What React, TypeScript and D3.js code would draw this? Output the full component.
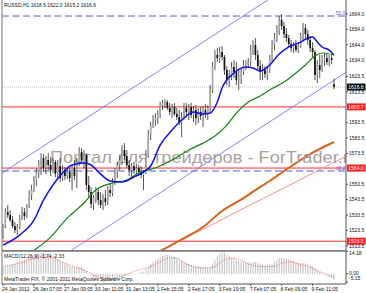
import React from "react";
import * as d3 from "d3";

const title = "RUSSD,H1  1618.5 1622.0 1615.2 1616.6";
const macdTitle = "MACD(12,26,9) -3.74 -2.33";
const footer = "MetaTrader FIX, \u00a9 2001-2011 MetaQuotes Software Corp.";
const watermark = "Портал для трейдеров - ForTrader.ru";

// [open, high, low, close]
const candles: [number, number, number, number][] = [
  [1518.5,1527.6,1517.9,1526.3],[1526.3,1538.0,1525.0,1535.4],[1535.4,1540.0,1531.5,1533.5],[1533.5,1536.7,1528.9,1530.2],
  [1530.2,1532.8,1525.0,1526.3],[1526.3,1528.9,1521.8,1523.7],[1523.7,1527.6,1520.5,1525.7],[1525.7,1533.5,1524.4,1532.2],
  [1532.2,1538.7,1530.2,1535.4],[1535.4,1538.0,1530.2,1532.8],[1532.8,1540.6,1531.5,1539.3],[1539.3,1549.7,1538.0,1546.5],
  [1546.5,1553.0,1543.2,1549.7],[1549.7,1558.8,1548.4,1556.2],[1556.2,1564.0,1552.3,1561.4],[1561.4,1569.2,1557.5,1566.0],
  [1566.0,1573.7,1559.5,1570.5],[1570.5,1573.1,1561.4,1564.0],[1564.0,1571.8,1560.1,1569.2],[1569.2,1573.7,1562.7,1566.0],
  [1566.0,1571.1,1558.8,1562.7],[1562.7,1570.5,1560.8,1567.9],[1567.9,1569.2,1558.2,1560.1],[1560.1,1569.2,1556.2,1565.3],
  [1565.3,1570.5,1554.9,1557.5],[1557.5,1566.0,1555.6,1562.7],[1562.7,1564.7,1556.2,1558.8],[1558.8,1564.0,1556.9,1561.4],
  [1561.4,1564.0,1554.9,1557.5],[1557.5,1566.0,1549.7,1564.0],[1564.0,1569.2,1556.2,1558.8],[1558.8,1570.5,1551.0,1567.9],
  [1567.9,1577.6,1565.3,1574.4],[1574.4,1577.0,1566.6,1569.2],[1569.2,1575.7,1564.0,1572.4],[1572.4,1573.7,1549.7,1553.0],
  [1553.0,1558.8,1545.2,1548.4],[1548.4,1551.7,1538.0,1540.6],[1540.6,1546.5,1536.7,1544.5],[1544.5,1551.7,1541.3,1548.4],
  [1548.4,1551.0,1540.0,1543.2],[1543.2,1548.4,1538.0,1540.0],[1540.0,1547.1,1536.7,1544.5],[1544.5,1549.7,1539.3,1541.9],
  [1541.9,1552.3,1540.0,1549.7],[1549.7,1554.3,1545.2,1547.8],[1547.8,1557.5,1545.8,1554.9],[1554.9,1564.0,1553.0,1561.4],
  [1561.4,1567.9,1557.5,1566.0],[1566.0,1572.4,1562.7,1569.2],[1569.2,1578.9,1566.0,1575.7],[1575.7,1580.2,1569.2,1571.8],
  [1571.8,1575.7,1564.0,1566.0],[1566.0,1569.2,1558.8,1562.7],[1562.7,1567.3,1558.2,1565.3],[1565.3,1567.9,1560.1,1562.7],
  [1562.7,1566.6,1558.2,1564.0],[1564.0,1566.0,1558.8,1561.4],[1561.4,1565.3,1557.5,1559.5],[1559.5,1562.7,1549.7,1561.4],
  [1561.4,1575.7,1560.1,1572.4],[1572.4,1588.7,1570.5,1585.4],[1585.4,1593.9,1582.2,1591.9],[1591.9,1598.4,1590.0,1595.2],
  [1595.2,1599.7,1591.3,1596.5],[1596.5,1601.7,1592.6,1598.4],[1598.4,1606.9,1596.5,1604.9],[1604.9,1608.2,1601.7,1606.2],
  [1606.2,1608.8,1603.0,1606.9],[1606.9,1608.2,1601.7,1603.0],[1603.0,1606.2,1598.4,1600.4],[1600.4,1605.6,1596.5,1603.6],
  [1603.6,1606.2,1597.8,1599.1],[1599.1,1603.0,1595.2,1597.1],[1597.1,1601.7,1591.9,1593.9],[1593.9,1600.4,1584.1,1596.5],
  [1596.5,1606.2,1595.2,1603.0],[1603.0,1606.2,1597.1,1600.4],[1600.4,1605.6,1595.2,1603.6],[1603.6,1606.2,1596.5,1598.4],
  [1598.4,1604.3,1593.9,1601.7],[1601.7,1604.9,1591.9,1596.5],[1596.5,1603.0,1593.2,1600.4],[1600.4,1603.6,1595.2,1597.8],
  [1597.8,1604.3,1590.6,1601.7],[1601.7,1605.6,1596.5,1599.7],[1599.7,1604.9,1595.2,1603.0],[1603.0,1617.9,1600.4,1614.7],
  [1614.7,1632.8,1612.7,1630.2],[1630.2,1640.6,1627.6,1637.4],[1637.4,1641.9,1632.8,1635.4],[1635.4,1642.6,1632.2,1639.3],
  [1639.3,1643.2,1634.1,1636.1],[1636.1,1637.4,1624.4,1627.6],[1627.6,1630.2,1617.9,1621.1],[1621.1,1627.6,1616.6,1624.4],
  [1624.4,1632.8,1621.1,1629.6],[1629.6,1634.1,1622.4,1626.3],[1626.3,1632.8,1617.9,1621.1],[1621.1,1627.6,1614.7,1623.7],
  [1623.7,1628.9,1618.5,1626.3],[1626.3,1634.1,1624.4,1630.9],[1630.9,1634.1,1627.6,1631.5],[1631.5,1635.4,1628.9,1632.8],
  [1632.8,1643.9,1630.2,1640.6],[1640.6,1647.1,1637.4,1643.9],[1643.9,1648.4,1634.1,1637.4],[1637.4,1640.6,1627.6,1630.2],
  [1630.2,1634.1,1621.1,1626.3],[1626.3,1631.5,1621.1,1627.6],[1627.6,1630.2,1622.4,1625.0],[1625.0,1629.6,1621.1,1627.6],
  [1627.6,1637.4,1625.7,1635.4],[1635.4,1647.1,1632.8,1643.9],[1643.9,1651.7,1640.6,1648.4],[1648.4,1656.9,1645.8,1653.6],
  [1653.6,1662.7,1650.4,1660.1],[1660.1,1664.0,1653.6,1656.2],[1656.2,1658.8,1648.4,1651.0],[1651.0,1654.9,1645.8,1648.4],
  [1648.4,1650.4,1642.6,1644.5],[1644.5,1647.1,1639.3,1641.9],[1641.9,1645.8,1638.7,1643.9],[1643.9,1647.1,1639.3,1640.6],
  [1640.6,1645.8,1638.7,1643.2],[1643.2,1651.7,1641.9,1649.7],[1649.7,1658.2,1647.1,1654.9],[1654.9,1657.5,1648.4,1651.0],
  [1651.0,1653.6,1643.9,1647.1],[1647.1,1649.7,1639.3,1641.9],[1641.9,1645.8,1636.1,1639.3],[1639.3,1640.6,1621.1,1624.4],
  [1624.4,1634.1,1619.2,1630.9],[1630.9,1637.4,1622.4,1627.6],[1627.6,1637.4,1626.3,1634.1],[1634.1,1638.7,1630.2,1635.4],
  [1635.4,1638.0,1630.9,1632.8],[1632.8,1637.4,1630.2,1635.4],[1635.4,1637.4,1631.5,1634.1],[1618.5,1622.0,1615.2,1616.6],
];

// moving averages sampled as [bar, price]
const maFast: [number, number][] = [
  [0,1514.0],[7,1520.5],[13,1530.2],[17,1543.2],[21,1553.0],[25,1560.8],[29,1566.0],[34,1567.3],[37,1566.0],
  [41,1560.1],[45,1555.6],[50,1554.9],[55,1558.2],[59,1561.4],[62,1565.3],[66,1578.9],[71,1588.7],[76,1596.5],
  [80,1600.4],[84,1599.1],[87,1599.7],[90,1606.9],[92,1616.0],[97,1625.7],[102,1629.6],[105,1628.9],[108,1627.0],
  [112,1630.9],[116,1638.0],[120,1642.6],[125,1645.8],[128,1648.4],[130,1649.1],[132,1645.8],[134,1642.6],
  [137,1640.6],[139,1637.4],
];
const maSlow: [number, number][] = [
  [12,1509.5],[20,1519.2],[27,1531.5],[34,1541.3],[39,1549.7],[46,1554.3],[52,1556.2],[57,1560.8],[65,1564.7],
  [71,1569.2],[78,1575.7],[84,1580.2],[89,1584.8],[94,1591.9],[98,1599.7],[103,1606.9],[108,1610.8],[112,1614.7],
  [118,1619.8],[123,1625.7],[127,1630.9],[131,1636.7],[134,1638.7],[139,1637.4],
];
const maLong: [number, number][] = [
  [64,1508.5],[66,1510.1],[76,1518.5],[84,1525.7],[92,1536.1],[101,1544.5],[106,1549.7],[112,1555.6],
  [118,1562.1],[129,1573.1],[139,1580.9],
];
const trendLine: [number, number][] = [[74,1516.5],[144.5,1572.0]];
const channelUpper: [number, number][] = [[-1,1560.2],[112,1673.9]];
const channelLower: [number, number][] = [[28,1509.9],[144.5,1626.6]];

const redLevels = [1603.7, 1564.0, 1516.5];
const fiboLevels = [{ label: "50.0", price: 1662.7 }, { label: "38.2", price: 1562.1 }];
const bidPrice = 1616.6;

const priceTicks = [1664.0,1654.0,1644.0,1634.0,1623.5,1613.5,1593.5,1583.5,1573.5,1553.5,1543.5,1533.5,1523.5,1513.5];
const dateLabels = ["24 Jan 2012","26 Jan 07:05","27 Jan 09:05","30 Jan 11:05","31 Jan 13:05","1 Feb 15:05","2 Feb 17:05","3 Feb 19:05","7 Feb 07:05","8 Feb 09:05","9 Feb 11:05"];
const dateBars = [0,13,26,39,52,65,78,91,104,117,130];

const macdHist = [
  4.5,5,5.3,5.6,6,
  6.5,7.2,8,8.7,9.3,9.8,10.4,11,11.6,
  12.2,12.8,13.2,13,12.6,12.2,11.6,
  10.8,10,9.2,8.3,7.4,6.6,5.8,5,4.4,
  4,4.2,4.4,4.2,
  3.0,1.8,0.4,-1.0,-2.2,-3.3,-4.2,-4.8,-5.15,-5.0,-4.7,-4.3,-3.8,-3.3,-2.8,
  -2.3,-1.8,-1.2,-0.8,-0.5,-0.3,-0.1,0.2,0.6,
  1,1.5,2.8,4.5,6.2,7.6,8.8,9.8,10.7,11.4,11.9,12.1,12,
  11.5,10.9,10.2,9.4,8.5,7.7,
  6.9,6.2,5.7,5.3,4.9,4.6,4.4,4.2,4,3.8,4.4,
  6.5,9,11.2,12.8,14.18,13.3,12.2,
  11,10.2,9.5,8.8,8.2,7.7,7.4,7.2,7.0,7.2,
  7.4,7.5,7,6.5,6,5.6,5.4,5.7,
  6.6,7.7,8.8,9.8,10.3,10.1,9.8,9.3,
  8.7,8.2,7.6,7.1,6.9,6.9,6.7,6.2,5.5,4.7,3.6,
  2.3,1.3,0.6,-0.1,-0.9,-1.8,-2.8,-3.74,
];
const macdSignal: [number, number][] = [
  [0,4.4],[7,6.9],[15,10.2],[20,10.4],[24,8.0],[29,5.0],[33,3.0],[37,0.4],[40,-2.2],[44,-3.9],[48,-2.4],
  [52,-0.4],[55,1.6],[59,3.2],[63,5.2],[67,8.6],[70,10.2],[73,10.0],[76,7.0],[80,4.6],[84,3.8],[88,4.2],
  [91,6.9],[95,10.0],[98,9.6],[101,7.6],[106,5.0],[110,4.6],[114,4.8],[117,6.6],[120,7.8],[124,6.2],
  [129,4.2],[133,1.4],[136,-0.6],[139,-2.33],
];
const macdTicks = [{ v: 14.18, t: "14.18" }, { v: 0, t: "0.00" }, { v: -5.15, t: "-5.15" }];

export default function App() {
  const W = 366, H = 293;
  const L = 2, R = 346, mainBot = 250, mTop = 251.5, mBot = 284;
  const n = candles.length;
  const x = d3.scaleLinear().domain([0, n - 1]).range([3, 334]);
  const y = d3.scaleLinear().domain([1510.8, 1673.1]).range([250, 0]);
  const m = d3.scaleLinear().domain([-5.15, 14.18]).range([282, 251.5]);
  const curve = d3.line<[number, number]>().x(d => x(d[0])).y(d => y(d[1])).curve(d3.curveMonotoneX);
  const straight = d3.line<[number, number]>().x(d => x(d[0])).y(d => y(d[1]));
  const sig = d3.line<[number, number]>().x(d => x(d[0])).y(d => m(d[1])).curve(d3.curveMonotoneX);
  const font = "'Liberation Sans', Arial, sans-serif";
  const fs = 5;
  const bw = 1.7;

  return (
    <svg width={W} height={H} viewBox={`0 0 ${W} ${H}`}
      style={{ position: "absolute", left: 0, top: 0, display: "block", background: "#fff" }}
      fontFamily={font}>
      <defs>
        <clipPath id="mainClip"><rect x={L} y={0} width={R - L} height={mainBot} /></clipPath>
        <clipPath id="macdClip"><rect x={L} y={mTop} width={R - L} height={mBot - mTop} /></clipPath>
      </defs>

      <g clipPath="url(#mainClip)">
        {fiboLevels.map(f => (
          <line key={f.label} x1={L} x2={R} y1={y(f.price)} y2={y(f.price)} stroke="#5a5ad2" strokeWidth={1} strokeDasharray="7,3.5" />
        ))}
        <line x1={L} x2={R} y1={y(bidPrice)} y2={y(bidPrice)} stroke="#bdbdbd" strokeWidth={1} strokeDasharray="1,1" />
        {redLevels.map(p => (
          <line key={p} x1={L} x2={R} y1={y(p)} y2={y(p)} stroke="#ff2a2a" strokeWidth={1} />
        ))}
        <path d={straight(channelUpper) || ""} fill="none" stroke="#7474ff" strokeWidth={0.9} />
        <path d={straight(channelLower) || ""} fill="none" stroke="#7474ff" strokeWidth={0.9} />
        <path d={straight(trendLine) || ""} fill="none" stroke="#ff8c8c" strokeWidth={1} />
        <path d={curve(maLong) || ""} fill="none" stroke="#d8641a" strokeWidth={2} />

        <text x={50} y={163.3} fontSize={17} fill="#ab9f9f" textLength={309} lengthAdjust="spacingAndGlyphs">{watermark}</text>

        {candles.map((c, i) => {
          const [o, h, l, cl] = c;
          const cx = x(i);
          const up = cl >= o;
          const top = y(Math.max(o, cl));
          const bh = Math.max(0.8, Math.abs(y(o) - y(cl)));
          return (
            <g key={i}>
              <line x1={cx} x2={cx} y1={y(h)} y2={y(l)} stroke="#2a2a2a" strokeWidth={0.8} />
              <rect x={cx - bw / 2} y={top} width={bw} height={bh} fill={up ? "#a8a8a8" : "#111"} />
            </g>
          );
        })}

        <path d={curve(maSlow) || ""} fill="none" stroke="#0a8a0a" strokeWidth={1.2} />
        <path d={curve(maFast) || ""} fill="none" stroke="#1010ee" strokeWidth={1.5} />

        {fiboLevels.map(f => (
          <text key={"fl" + f.label} x={345} y={y(f.price) - 1} fontSize={4.6} fill="#5a5ad2" textAnchor="end">{f.label}</text>
        ))}
      </g>

      <g clipPath="url(#macdClip)">
        {macdHist.map((v, i) => (
          <line key={i} x1={x(i)} x2={x(i)} y1={m(0)} y2={m(v)} stroke="#c4c4c4" strokeWidth={1.1} />
        ))}
        <path d={sig(macdSignal) || ""} fill="none" stroke="#ff5050" strokeWidth={0.8} strokeDasharray="1,1" />
      </g>

      <line x1={L} x2={L} y1={0} y2={mBot} stroke="#777" strokeWidth={1} />
      <line x1={R} x2={R} y1={0} y2={mBot} stroke="#555" strokeWidth={1} />
      <line x1={L} x2={R} y1={mBot} y2={mBot} stroke="#555" strokeWidth={1} />
      <rect x={L} y={mainBot} width={R - L} height={1.8} fill="#808080" />

      <text x={4} y={7} fontSize={fs} fill="#111">{title}</text>
      <text x={4} y={257.5} fontSize={fs} fill="#111">{macdTitle}</text>
      <text x={4} y={281} fontSize={fs} fill="#111">{footer}</text>

      {priceTicks.map(p => (
        <g key={p}>
          <line x1={R} x2={R + 2} y1={y(p)} y2={y(p)} stroke="#333" strokeWidth={0.8} />
          <text x={349} y={y(p)} dy="0.35em" fontSize={fs} fill="#111">{p.toFixed(1)}</text>
        </g>
      ))}
      {macdTicks.map((t, i) => (
        <g key={t.t}>
          <line x1={R} x2={R + 2} y1={m(t.v)} y2={m(t.v)} stroke="#333" strokeWidth={0.8} />
          <text x={349} y={i === 0 ? 253.5 : i === 2 ? 278.5 : m(t.v) - 0.5} dy="0.35em" fontSize={fs} fill="#111">{t.t}</text>
        </g>
      ))}
      {redLevels.map(p => (
        <g key={"rb" + p}>
          <rect x={347} y={y(p) - 3.5} width={18.5} height={7} fill="#ff1a1a" />
          <text x={348.3} y={y(p)} dy="0.35em" fontSize={fs} fill="#fff">{p.toFixed(1)}</text>
        </g>
      ))}
      <rect x={347} y={y(bidPrice) - 3.5} width={18.5} height={7} fill="#111" />
      <text x={348.3} y={y(bidPrice)} dy="0.35em" fontSize={fs} fill="#fff">{bidPrice.toFixed(1)}</text>

      {dateBars.map((b, k) => (
        <g key={b}>
          <line x1={x(b)} x2={x(b)} y1={mBot} y2={mBot + 2} stroke="#333" strokeWidth={0.8} />
          <text x={x(b) - 1} y={290.5} fontSize={fs} fill="#111">{dateLabels[k]}</text>
        </g>
      ))}
    </svg>
  );
}
